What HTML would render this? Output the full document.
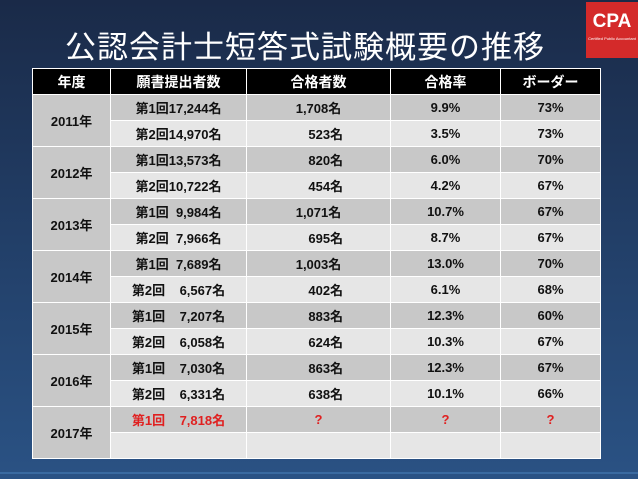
<!DOCTYPE html>
<html><head><meta charset="utf-8"><style>
body{margin:0;width:638px;height:479px;overflow:hidden;background:linear-gradient(180deg,#1a2a48 0%,#223f68 50%,#2a5284 100%);font-family:"Liberation Sans","Noto Sans CJK JP",sans-serif;position:relative}
.title{position:absolute;left:0;width:610px;top:22px;text-align:center;color:#fff;font-size:31px;letter-spacing:1px}
.logo{position:absolute;left:586px;top:2px;width:52px;height:56px;background:#d42a2a;color:#fff;font-weight:bold;font-size:19px;text-align:center;line-height:40px}
.logo small{position:absolute;left:0;right:0;top:34px;font-size:4px;line-height:6px;font-weight:normal}
table{position:absolute;left:32px;top:68px;width:568px;border-collapse:collapse;table-layout:fixed}
td,th{border:1px solid #fff;height:25px;padding:0;font-size:13px;font-weight:bold;color:#111;text-align:center}
th{background:#000;color:#fff;font-size:14px;height:25px}
.a td{background:#c8c8c8}.b td{background:#e6e6e6}
td.y{background:#c8c8c8}
.r{color:#e02020}
.bar{position:absolute;left:0;right:0;top:472px;height:2px;background:#3a6aa0}
</style></head><body>
<div class="title">公認会計士短答式試験概要の推移</div>
<div class="logo">CPA<small>Certified Public Accountant</small></div>
<table>
<colgroup><col style="width:78px"><col style="width:136px"><col style="width:144px"><col style="width:110px"><col style="width:100px"></colgroup>
<tr><th>年度</th><th>願書提出者数</th><th>合格者数</th><th>合格率</th><th>ボーダー</th></tr>
<tr class="a"><td class="y" rowspan="2">2011年</td><td>第1回17,244名</td><td>1,708名</td><td>9.9%</td><td>73%</td></tr>
<tr class="b"><td>第2回14,970名</td><td>&nbsp;&nbsp;&nbsp;&nbsp;523名</td><td>3.5%</td><td>73%</td></tr>
<tr class="a"><td class="y" rowspan="2">2012年</td><td>第1回13,573名</td><td>&nbsp;&nbsp;&nbsp;&nbsp;820名</td><td>6.0%</td><td>70%</td></tr>
<tr class="b"><td>第2回10,722名</td><td>&nbsp;&nbsp;&nbsp;&nbsp;454名</td><td>4.2%</td><td>67%</td></tr>
<tr class="a"><td class="y" rowspan="2">2013年</td><td>第1回&nbsp;&nbsp;9,984名</td><td>1,071名</td><td>10.7%</td><td>67%</td></tr>
<tr class="b"><td>第2回&nbsp;&nbsp;7,966名</td><td>&nbsp;&nbsp;&nbsp;&nbsp;695名</td><td>8.7%</td><td>67%</td></tr>
<tr class="a"><td class="y" rowspan="2">2014年</td><td>第1回&nbsp;&nbsp;7,689名</td><td>1,003名</td><td>13.0%</td><td>70%</td></tr>
<tr class="b"><td>第2回&nbsp;&nbsp;&nbsp;&nbsp;6,567名</td><td>&nbsp;&nbsp;&nbsp;&nbsp;402名</td><td>6.1%</td><td>68%</td></tr>
<tr class="a"><td class="y" rowspan="2">2015年</td><td>第1回&nbsp;&nbsp;&nbsp;&nbsp;7,207名</td><td>&nbsp;&nbsp;&nbsp;&nbsp;883名</td><td>12.3%</td><td>60%</td></tr>
<tr class="b"><td>第2回&nbsp;&nbsp;&nbsp;&nbsp;6,058名</td><td>&nbsp;&nbsp;&nbsp;&nbsp;624名</td><td>10.3%</td><td>67%</td></tr>
<tr class="a"><td class="y" rowspan="2">2016年</td><td>第1回&nbsp;&nbsp;&nbsp;&nbsp;7,030名</td><td>&nbsp;&nbsp;&nbsp;&nbsp;863名</td><td>12.3%</td><td>67%</td></tr>
<tr class="b"><td>第2回&nbsp;&nbsp;&nbsp;&nbsp;6,331名</td><td>&nbsp;&nbsp;&nbsp;&nbsp;638名</td><td>10.1%</td><td>66%</td></tr>
<tr class="a"><td class="y" rowspan="2">2017年</td><td class="r">第1回&nbsp;&nbsp;&nbsp;&nbsp;7,818名</td><td class="r">?</td><td class="r">?</td><td class="r">?</td></tr>
<tr class="b"><td></td><td></td><td></td><td></td></tr>
</table>
<div class="bar"></div>
</body></html>
